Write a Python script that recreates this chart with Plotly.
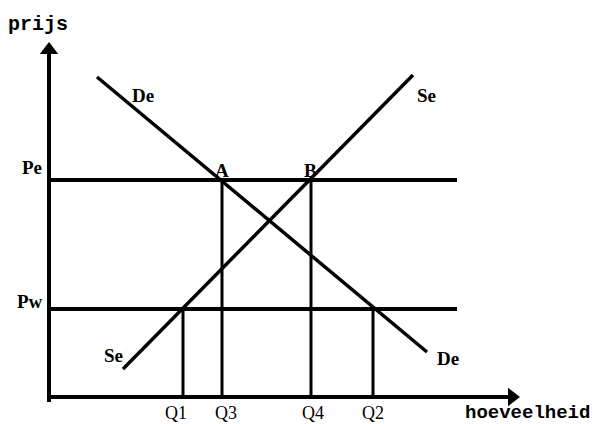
import plotly.graph_objects as go

# quantities / prices (axis origin = 0, 0)
DE_Q = [4.8, 37.8]
DE_P = [32.0, 4.5]
SE_Q = [7.4, 36.4]
SE_P = [2.8, 32.2]
PE = 21.7
PW = 8.8
PRICE_LINE_END = 40.8
Q_LABELS = ["Q1", "Q3", "Q4", "Q2"]
Q_VALUES = [13.4, 17.3, 26.2, 32.4]
Q_TOPS = [PW, PE, PE, PW]
X_AXIS_END = 47.1
Y_AXIS_END = 35.5

INK = "#000000"
SERIF = "Liberation Serif"
MONO = "Liberation Mono"

fig = go.Figure()


def line(xs, ys, width):
    fig.add_trace(go.Scatter(x=xs, y=ys, mode="lines",
                             line={"color": INK, "width": width},
                             hoverinfo="skip", showlegend=False))


# axes
line([0, 0], [-0.5, Y_AXIS_END - 0.8], 4)
line([0, X_AXIS_END - 0.8], [0, 0], 4)
fig.add_trace(go.Scatter(x=[0], y=[Y_AXIS_END - 0.8], mode="markers",
                         marker={"symbol": "triangle-up", "size": 16, "color": INK},
                         hoverinfo="skip", showlegend=False))
fig.add_trace(go.Scatter(x=[X_AXIS_END - 0.8], y=[0], mode="markers",
                         marker={"symbol": "triangle-right", "size": 16, "color": INK},
                         hoverinfo="skip", showlegend=False))

# price lines
line([0, PRICE_LINE_END], [PE, PE], 4)
line([0, PRICE_LINE_END], [PW, PW], 4)

# demand and supply
line(DE_Q, DE_P, 3.5)
line(SE_Q, SE_P, 3.5)

# quantity drop lines
for q, top in zip(Q_VALUES, Q_TOPS):
    line([q, q], [0, top], 3)

labels = [
    ("Pe", -1.7, 23.0), ("Pw", -1.9, 9.6),
    ("A", 17.3, 22.7), ("B", 26.1, 22.7),
    ("De", 9.4, 30.2), ("Se", 37.7, 30.2),
    ("Se", 6.4, 4.2), ("De", 39.9, 3.9),
]
for text, x, y in labels:
    fig.add_annotation(x=x, y=y, text=f"<b>{text}</b>", showarrow=False,
                       font={"family": SERIF, "size": 19, "color": INK})

for text, x in zip(Q_LABELS, [12.7, 17.7, 26.4, 32.4]):
    fig.add_annotation(x=x, y=-1.6, text=text, showarrow=False,
                       font={"family": SERIF, "size": 18, "color": INK})

fig.add_annotation(x=-1.1, y=37.3, text="<b>prijs</b>", showarrow=False,
                   font={"family": MONO, "size": 20, "color": INK})
fig.add_annotation(x=47.8, y=-1.6, text="<b>hoeveelheid</b>", showarrow=False,
                   font={"family": MONO, "size": 19, "color": INK})

fig.update_layout(
    width=597,
    height=424,
    margin={"l": 0, "r": 0, "t": 0, "b": 0},
    paper_bgcolor="#FFFFFF",
    plot_bgcolor="#FFFFFF",
)
fig.update_xaxes(range=[-4.9, 54.8], visible=False, fixedrange=True)
fig.update_yaxes(range=[-2.7, 39.7], visible=False, fixedrange=True)

fig.write_html(
    "out.html",
    config={"displayModeBar": False},
    post_script="document.body.style.margin='0';document.body.style.overflow='hidden';",
)
